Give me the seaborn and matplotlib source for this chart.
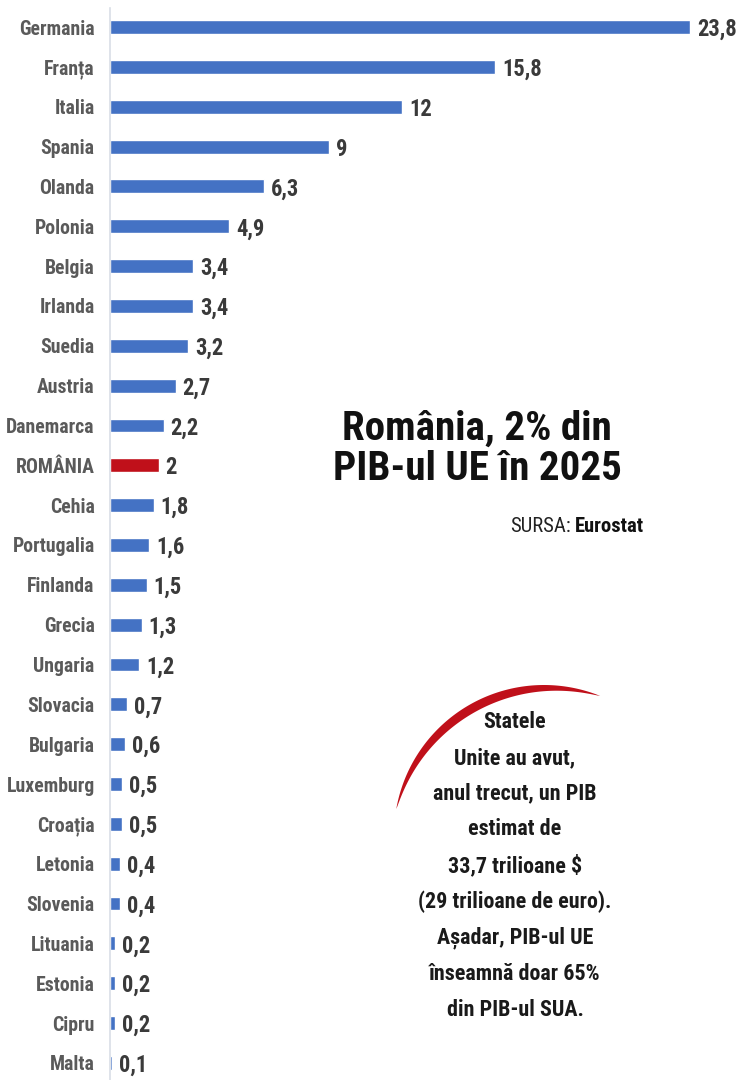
import numpy as np
import pandas as pd
import matplotlib
matplotlib.use("Agg")
import matplotlib.pyplot as plt
from matplotlib import font_manager as fm
from matplotlib.patches import Polygon
import seaborn as sns

countries = ["Germania", "Franța", "Italia", "Spania", "Olanda", "Polonia", "Belgia",
             "Irlanda", "Suedia", "Austria", "Danemarca", "ROMÂNIA", "Cehia", "Portugalia",
             "Finlanda", "Grecia", "Ungaria", "Slovacia", "Bulgaria", "Luxemburg", "Croația",
             "Letonia", "Slovenia", "Lituania", "Estonia", "Cipru", "Malta"]
values = [23.8, 15.8, 12, 9, 6.3, 4.9, 3.4, 3.4, 3.2, 2.7, 2.2, 2, 1.8, 1.6, 1.5, 1.3,
          1.2, 0.7, 0.6, 0.5, 0.5, 0.4, 0.4, 0.2, 0.2, 0.2, 0.1]
highlight = "ROMÂNIA"

BLUE = "#4472C4"
RED = "#C0101A"

sns.set_theme(style="white")

# Look for a condensed / narrow face if one is installed
cond_family, cond_stretch = None, "normal"
pref = ["Liberation Sans Narrow", "DejaVu Sans Condensed", "Roboto Condensed",
        "Open Sans Condensed", "Noto Sans Condensed"]
names = {f.name for f in fm.fontManager.ttflist}
for p in pref:
    if p in names:
        cond_family = p
        break
if cond_family is None:
    for f in fm.fontManager.ttflist:
        st = f.stretch
        if isinstance(st, str) and st in ("condensed", "semi-condensed", "extra-condensed"):
            cond_family, cond_stretch = f.name, st
            break
        if isinstance(st, int) and st < 500:
            cond_family, cond_stretch = f.name, st
            break
found_cond = cond_family is not None
if cond_family is None:
    cond_family = "Liberation Sans"

plt.rcParams['font.family'] = [cond_family, 'Liberation Sans', 'DejaVu Sans']
plt.rcParams['font.stretch'] = cond_stretch

k = 1.12 if found_cond else 1.0  # allow larger sizes for narrow faces

df = pd.DataFrame({"country": countries, "value": values})
palette = {c: (RED if c == highlight else BLUE) for c in countries}

W, H = 748, 1080
fig = plt.figure(figsize=(W / 100, H / 100), dpi=100)
ax = fig.add_axes([110 / W, 0, 1 - 110 / W, 1 - 8 / H])

sns.barplot(data=df, x="value", y="country", hue="country", palette=palette,
            legend=False, width=0.35, orient="h", ax=ax, saturation=1)

ax.set_xlim(0, 26.18)
ax.set_ylim(26.43, -0.48)
ax.set_xlabel("")
ax.set_ylabel("")
ax.set_xticks([])
for s in ["top", "right", "bottom"]:
    ax.spines[s].set_visible(False)
ax.spines["left"].set_color("#D9DEE6")
ax.spines["left"].set_linewidth(1.2)
ax.tick_params(axis="y", length=0, pad=11)
for lab in ax.get_yticklabels():
    lab.set_fontweight("bold")
    lab.set_fontsize(12.7 * k)
    lab.set_color("#5A5A5A")

for cont in ax.containers:
    txts = ax.bar_label(cont, labels=[f"{v:g}".replace(".", ",") for v in cont.datavalues],
                        padding=5, fontsize=14.5 * k, fontweight="bold", color="#3A3A3A")
    for t in txts:
        t.set_va("center_baseline")

# Title and source
fig.text(477 / W, 1 - 449 / H, "România, 2% din\nPIB-ul UE în 2025", ha="center", va="center",
         fontsize=26.4 * k, fontweight="black", color="#111111", linespacing=1.1)
fig.text(571 / W, 1 - 527 / H, "SURSA:", ha="right", va="center", fontsize=13.3 * k,
         color="#222222")
fig.text(575 / W, 1 - 527 / H, "Eurostat", ha="left", va="center", fontsize=13.3 * k,
         fontweight="bold", color="#111111")

# Annotation text
note = ("Statele\nUnite au avut,\nanul trecut, un PIB\nestimat de\n33,7 trilioane $\n"
        "(29 trilioane de euro).\nAșadar, PIB-ul UE\nînseamnă doar 65%\ndin PIB-ul SUA.")
note_size = 15.8 if found_cond else 14
fig.text(515 / W, 1 - 866 / H, note, ha="center", va="center", fontsize=note_size,
         fontweight="bold", color="#1A1A1A",
         linespacing=(1.72 * 16.5 / note_size) if found_cond else 1.6)

# Red crescent arc (decoration)
cx, cy, R = 544, 835, 150
th = np.linspace(np.deg2rad(68), np.deg2rad(170), 120)
t = 9 * np.sin(np.pi * (th - th[0]) / (th[-1] - th[0])) ** 0.8
outer = np.column_stack([cx + R * np.cos(th), cy - R * np.sin(th)])
inner = np.column_stack([cx + (R - t) * np.cos(th), cy - (R - t) * np.sin(th)])
pts = np.vstack([outer, inner[::-1]])
pts_fig = np.column_stack([pts[:, 0] / W, 1 - pts[:, 1] / H])
fig.patches.append(Polygon(pts_fig, closed=True, transform=fig.transFigure,
                           facecolor=RED, edgecolor="none"))

fig.savefig("out.png", dpi=100)
